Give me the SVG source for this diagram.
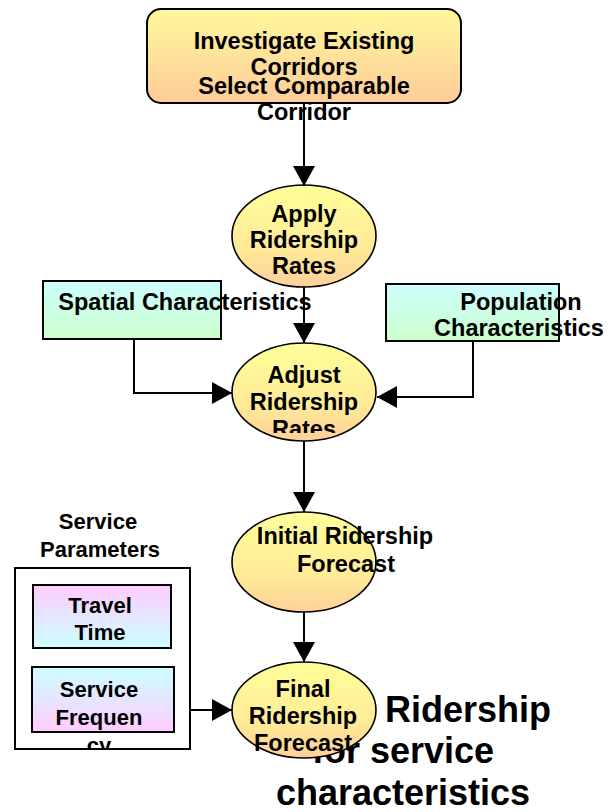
<svg xmlns="http://www.w3.org/2000/svg" width="610" height="812" viewBox="0 0 610 812">
<style>
.t{font-family:"Liberation Sans",Arial,sans-serif;font-weight:bold;font-size:23.5px;fill:#000;text-anchor:middle}
.s{font-size:22px}
.big{font-family:"Liberation Sans",Arial,sans-serif;font-weight:bold;font-size:36px;fill:#000}
.ol{fill:none;stroke:#000;stroke-width:2}
.el{stroke:#000;stroke-width:1.6;fill:url(#gEl)}
.cn{fill:none;stroke:#000;stroke-width:2}
</style>
<defs>
<linearGradient id="gTop" x1="0" y1="0" x2="0" y2="1"><stop offset="0" stop-color="#FFF89C"/><stop offset="1" stop-color="#FFCC99"/></linearGradient>
<linearGradient id="gEl" x1="0" y1="0" x2="0" y2="1"><stop offset="0" stop-color="#FFFF99"/><stop offset="0.6" stop-color="#FFEC97"/><stop offset="1" stop-color="#FFD099"/></linearGradient>
<linearGradient id="gCG" x1="0" y1="0" x2="0" y2="1"><stop offset="0" stop-color="#CCFFFF"/><stop offset="1" stop-color="#CCFFCC"/></linearGradient>
<linearGradient id="gPC" x1="0" y1="0" x2="0" y2="1"><stop offset="0" stop-color="#FFCCFF"/><stop offset="1" stop-color="#CCFFFF"/></linearGradient>
<linearGradient id="gCP" x1="0" y1="0" x2="0" y2="1"><stop offset="0" stop-color="#CCFFFF"/><stop offset="1" stop-color="#FFCCFF"/></linearGradient>
<clipPath id="clipAdj"><rect x="200" y="340" width="210" height="93"/></clipPath>
<clipPath id="clipSvc"><rect x="0" y="560" width="200" height="188"/></clipPath>
<marker id="ah" markerUnits="userSpaceOnUse" markerWidth="20" markerHeight="22" refX="20" refY="11" orient="auto"><path d="M0,0 L20,11 L0,22 z" fill="#000"/></marker>
</defs>

<g id="node-investigate">
<rect x="147" y="9" width="314" height="94" rx="14" fill="url(#gTop)"/>
<text class="t" x="304" y="49">Investigate Existing</text>
<text class="t" x="304" y="75">Corridors</text>
<text class="t" x="304" y="94">Select Comparable</text>
<text class="t" x="304" y="120">Corridor</text>
<rect x="147" y="9" width="314" height="94" rx="14" class="ol" stroke-width="1.6"/>
</g>

<g id="node-apply">
<ellipse cx="304" cy="236" rx="72" ry="51" class="el"/>
<text class="t" x="304" y="222">Apply</text>
<text class="t" x="304" y="248">Ridership</text>
<text class="t" x="304" y="274">Rates</text>
</g>

<g id="node-spatial">
<rect x="43" y="281" width="178" height="58" fill="url(#gCG)"/>
<text class="t" x="185" y="310">Spatial Characteristics</text>
<rect x="43" y="281" width="178" height="58" class="ol"/>
</g>

<g id="node-population">
<rect x="386" y="284" width="173" height="57" fill="url(#gCG)"/>
<text class="t" x="521" y="310">Population</text>
<text class="t" x="519" y="336">Characteristics</text>
<rect x="386" y="284" width="173" height="57" class="ol"/>
</g>

<g id="node-adjust">
<ellipse cx="304" cy="392" rx="72" ry="49" class="el"/>
<g clip-path="url(#clipAdj)">
<text class="t" x="304" y="383">Adjust</text>
<text class="t" x="304" y="410">Ridership</text>
<text class="t" x="304" y="437">Rates</text>
</g>
</g>

<g id="node-initial">
<ellipse cx="304" cy="562" rx="72" ry="50" class="el"/>
<text class="t" x="345" y="544">Initial Ridership</text>
<text class="t" x="346" y="572">Forecast</text>
</g>

<g id="node-service-parameters">
<text class="t s" x="98" y="529">Service</text>
<text class="t s" x="100" y="557">Parameters</text>
<rect x="15" y="568" width="175" height="181" fill="#fff"/>
<rect x="33" y="585" width="138" height="63" fill="url(#gPC)"/>
<rect x="33" y="585" width="138" height="63" class="ol"/>
<text class="t s" x="100" y="613">Travel</text>
<text class="t s" x="100" y="640">Time</text>
<rect x="32" y="667" width="142" height="65" fill="url(#gCP)"/>
<rect x="32" y="667" width="142" height="65" class="ol"/>
<g clip-path="url(#clipSvc)">
<text class="t s" x="99" y="697">Service</text>
<text class="t s" x="99" y="725">Frequen</text>
<text class="t s" x="99" y="753">cy</text>
</g>
<rect x="15" y="568" width="175" height="181" class="ol"/>
</g>

<g id="title-text">
<text class="big" x="385" y="722">Ridership</text>
<text class="big" x="403" y="763" text-anchor="middle">for service</text>
<text class="big" x="403" y="805" text-anchor="middle">characteristics</text>
</g>

<g id="node-final">
<ellipse cx="304" cy="710" rx="72" ry="48" class="el"/>
<text class="t" x="303" y="697">Final</text>
<text class="t" x="303" y="724">Ridership</text>
<text class="t" x="303" y="751">Forecast</text>
</g>

<g id="connectors">
<path class="cn" d="M304,103 V186" marker-end="url(#ah)"/>
<path class="cn" d="M304,287 V343" marker-end="url(#ah)"/>
<path class="cn" d="M134,339 V393 H232" marker-end="url(#ah)"/>
<path class="cn" d="M473,341 V397 H377" marker-end="url(#ah)"/>
<path class="cn" d="M304,441 V512" marker-end="url(#ah)"/>
<path class="cn" d="M304,612 V662" marker-end="url(#ah)"/>
<path class="cn" d="M190,710 H232" marker-end="url(#ah)"/>
</g>
</svg>
